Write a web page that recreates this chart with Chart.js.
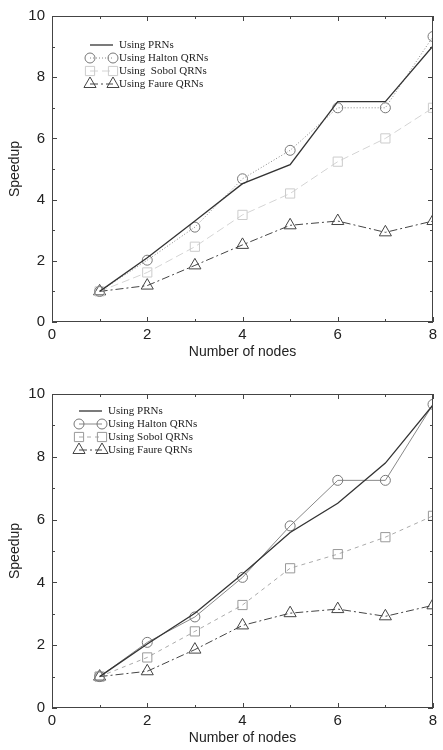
<!DOCTYPE html>
<html>
<head>
<meta charset="utf-8">
<script src="https://cdn.jsdelivr.net/npm/chart.js@4.4.1/dist/chart.umd.min.js"></script>
<style>
  html, body { margin: 0; padding: 0; background: #fff; }
  .box { position: relative; width: 443px; height: 375px; }
</style>
</head>
<body>
<div class="box"><canvas id="c1"></canvas></div>
<div class="box"><canvas id="c2"></canvas></div>
<script>
// x values (number of nodes)
let nodes = [1, 2, 3, 4, 5, 6, 7, 8];
let xTicks = [0, 2, 4, 6, 8];
let yTicks = [0, 2, 4, 6, 8, 10];
let seriesNames = ['Using PRNs', 'Using Halton QRNs', 'Using  Sobol QRNs', 'Using Faure QRNs'];
let seriesNames2 = ['Using PRNs', 'Using Halton QRNs', 'Using Sobol QRNs', 'Using Faure QRNs'];

// top figure
let prn1 = [1, 2.1, 3.3, 4.52, 5.14, 7.2, 7.2, 9.02];
let halton1 = [1, 2.02, 3.1, 4.68, 5.61, 7.0, 7.0, 9.33];
let sobol1 = [1, 1.62, 2.46, 3.5, 4.2, 5.24, 6.0, 7.0];
let faure1 = [1, 1.19, 1.85, 2.52, 3.16, 3.3, 2.93, 3.3];

// bottom figure
let prn2 = [1, 2.04, 3.02, 4.27, 5.59, 6.52, 7.8, 9.65];
let halton2 = [1, 2.09, 2.9, 4.16, 5.8, 7.25, 7.25, 9.67];
let sobol2 = [1, 1.61, 2.44, 3.28, 4.45, 4.9, 5.44, 6.12];
let faure2 = [1, 1.17, 1.86, 2.63, 3.02, 3.15, 2.92, 3.27];

function pts(ys) {
  return nodes.map((x, i) => ({x: x, y: ys[i]}));
}

// frame, inside ticks and gnuplot-like legend
const framePlugin = {
  id: 'frame',
  afterDatasetsDraw(chart, args, opts) {
    let ctx = chart.ctx;
    let a = chart.chartArea;
    let xs = chart.scales.x, ys = chart.scales.y;
    ctx.save();
    ctx.strokeStyle = '#444';
    ctx.lineWidth = 1;
    ctx.setLineDash([]);
    ctx.strokeRect(a.left + 0.5, a.top + 0.5, a.right - a.left - 1, a.bottom - a.top - 1);
    ctx.beginPath();
    for (let v = 0; v <= 8; v++) {
      let px = Math.round(xs.getPixelForValue(v)) + 0.5;
      let len = v % 2 == 0 ? 5 : 3;
      ctx.moveTo(px, a.bottom); ctx.lineTo(px, a.bottom - len);
      ctx.moveTo(px, a.top); ctx.lineTo(px, a.top + len);
    }
    for (let v = 0; v <= 10; v++) {
      let py = Math.round(ys.getPixelForValue(v)) + 0.5;
      let len = v % 2 == 0 ? 5 : 3;
      ctx.moveTo(a.left, py); ctx.lineTo(a.left + len, py);
      ctx.moveTo(a.right, py); ctx.lineTo(a.right - len, py);
    }
    ctx.stroke();

    // legend
    let lx = opts.x, ly = opts.y, w = 23;
    ctx.font = '11px "Liberation Serif", "Times New Roman", serif';
    ctx.textBaseline = 'middle';
    chart.data.datasets.forEach((ds, i) => {
      let y = ly + i * 13;
      ctx.strokeStyle = ds.borderColor;
      ctx.lineWidth = ds.borderWidth;
      ctx.setLineDash(ds.borderDash || []);
      ctx.beginPath();
      ctx.moveTo(lx, y); ctx.lineTo(lx + w, y);
      ctx.stroke();
      ctx.setLineDash([]);
      if (ds.pointRadius > 0) {
        let st = {pointStyle: ds.pointStyle, radius: ds.pointRadius, borderWidth: 1, rotation: 0};
        ctx.strokeStyle = ds.pointBorderColor;
        ctx.fillStyle = 'rgba(0,0,0,0)';
        Chart.helpers.drawPoint(ctx, st, lx, y);
        Chart.helpers.drawPoint(ctx, st, lx + w, y);
      }
      ctx.fillStyle = '#222';
      ctx.fillText(chart.data.datasets[i].label, lx + w + 6, y + 0.5);
    });
    ctx.restore();
  }
};

function makeChart(id, names, data, styles, geo) {
  let datasets = data.map((d, i) => ({
    label: names[i],
    data: pts(d),
    borderColor: styles[i].color,
    borderWidth: styles[i].width,
    borderDash: styles[i].dash,
    pointStyle: styles[i].point,
    pointRadius: styles[i].radius,
    pointBorderColor: styles[i].pcolor,
    pointBackgroundColor: 'rgba(0,0,0,0)',
    pointBorderWidth: 1,
    fill: false,
    tension: 0
  }));
  let font = {family: '"Liberation Sans", Arial, sans-serif', size: 15};
  let titleFont = {family: '"Liberation Sans", Arial, sans-serif', size: 14};
  return new Chart(document.getElementById(id), {
    type: 'line',
    data: {datasets: datasets},
    plugins: [framePlugin],
    options: {
      responsive: true,
      maintainAspectRatio: false,
      animation: false,
      layout: {padding: {left: 0, right: 10, top: geo.top, bottom: 0}},
      plugins: {
        legend: {display: false},
        tooltip: {enabled: false},
        frame: {x: geo.lx, y: geo.ly}
      },
      scales: {
        x: {
          type: 'linear', min: 0, max: 8,
          afterBuildTicks: s => { s.ticks = xTicks.map(v => ({value: v})); },
          afterFit: s => { s.height = geo.xh; },
          grid: {display: false, drawTicks: false, tickLength: 0},
          border: {display: false},
          ticks: {color: '#222', padding: 4, font: font},
          title: {display: true, text: 'Number of nodes', color: '#222', padding: {top: 0, bottom: geo.tb},
            font: titleFont}
        },
        y: {
          type: 'linear', min: 0, max: 10,
          afterBuildTicks: s => { s.ticks = yTicks.map(v => ({value: v})); },
          afterFit: s => { s.width = 52; },
          grid: {display: false, drawTicks: false, tickLength: 0},
          border: {display: false},
          ticks: {color: '#222', padding: 7, font: font},
          title: {display: true, text: 'Speedup', color: '#222', padding: {top: 7, bottom: 0},
            font: titleFont}
        }
      }
    }
  });
}

makeChart('c1', seriesNames, [prn1, halton1, sobol1, faure1], [
  {color: '#333', width: 1.3, dash: [], point: 'circle', radius: 0, pcolor: '#333'},
  {color: '#888', width: 1, dash: [1, 2], point: 'circle', radius: 5, pcolor: '#777'},
  {color: '#d4d4d4', width: 1, dash: [8, 4], point: 'rect', radius: 6.5, pcolor: '#ccc'},
  {color: '#444', width: 1, dash: [8, 3, 2, 3], point: 'triangle', radius: 7, pcolor: '#444'}
], {top: 7, xh: 53, tb: 14, lx: 90, ly: 45});

makeChart('c2', seriesNames2, [prn2, halton2, sobol2, faure2], [
  {color: '#333', width: 1.3, dash: [], point: 'circle', radius: 0, pcolor: '#333'},
  {color: '#888', width: 1, dash: [], point: 'circle', radius: 5, pcolor: '#777'},
  {color: '#aaa', width: 1, dash: [4, 4], point: 'rect', radius: 6.5, pcolor: '#999'},
  {color: '#444', width: 1, dash: [8, 3, 2, 3], point: 'triangle', radius: 7, pcolor: '#444'}
], {top: 19, xh: 42, tb: 3, lx: 79, ly: 36});
</script>
</body>
</html>
